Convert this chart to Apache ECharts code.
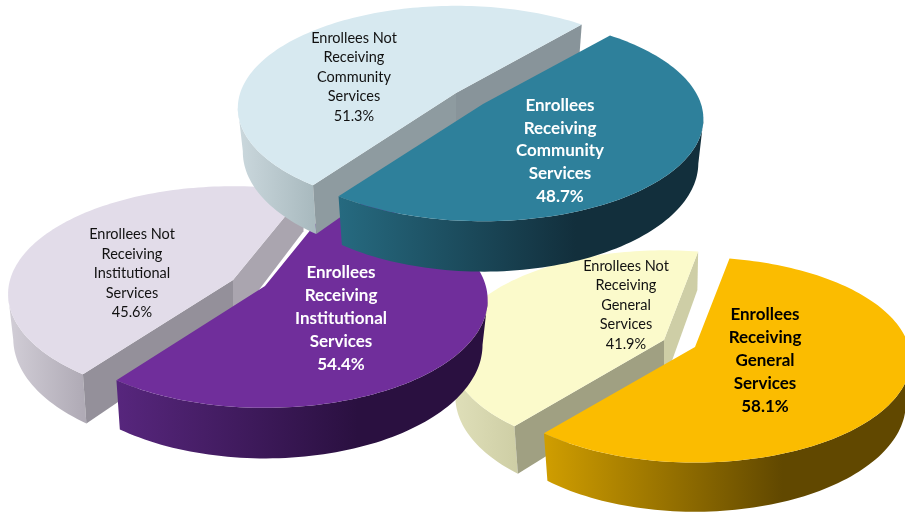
<!DOCTYPE html>
<html>
<head>
<meta charset="utf-8">
<title>Enrollees receiving services</title>
<script src="https://cdn.jsdelivr.net/npm/echarts@6/dist/echarts.min.js"></script>
<style>
  html, body { margin: 0; padding: 0; background: #fff; }
  #chart { width: 905px; height: 514px; }
</style>
</head>
<body>
<div id="chart"></div>
<script>
// data, drawn back to front
const serviceNames = ['General', 'Institutional', 'Community'];
const receivingValues = [58.1, 54.4, 48.7];
const notReceivingValues = [41.9, 45.6, 51.3];

// layout of each pie: tilt, depth and where the cut meets the front rim
const pieLayouts = [
  { rx: 214, ry: 101, tilt: 0.126, depth: 43, cutAngle: 129.6 },
  { rx: 223, ry: 106, tilt: 0.13, depth: 44, cutAngle: 127.1 },
  { rx: 218, ry: 100, tilt: 0.147, depth: 43, cutAngle: 125.7 }
];

// the bottom face is further from the eye, so it is a bit narrower
const BOTTOM_TAPER = 0.977;

const notReceivingLayouts = [
  { cx: 664, cy: 340, rxScale: 0.99, labelX: 626, labelY: 305, lineHeight: 19.5, font: 14.5, weight: 'normal', text: '#111',
    top: '#fbfacb', wallFrom: '#e0e0ba', wallTo: '#cfcfa6', cutBack: '#cecea6', cutFront: '#a0a082' },
  { cx: 233, cy: 280, labelX: 132, labelY: 273.5, lineHeight: 19.5, font: 14.5, weight: 'normal', text: '#111',
    top: '#e2dce9', wallFrom: '#d2ced7', wallTo: '#b0abb6', cutBack: '#aaa5af', cutFront: '#94909a' },
  { cx: 456, cy: 93, rxScale: 0.99, labelX: 354, labelY: 77, lineHeight: 19.5, font: 14.5, weight: 'normal', text: '#111',
    top: '#d7e9f0', wallFrom: '#cbd8dd', wallTo: '#a9babf', cutBack: '#88949a', cutFront: '#8e9ba0' }
];

const receivingLayouts = [
  { cx: 695, cy: 347, rxScale: 1, labelX: 765, labelY: 361, lineHeight: 23, font: 17, weight: 'bold', text: '#000',
    top: '#fbbc00', wallFrom: '#d09e00', wallTo: '#614800' },
  { cx: 265, cy: 286, rxScale: 0.99, labelX: 341, labelY: 319, lineHeight: 23, font: 17, weight: 'bold', text: '#fff',
    top: '#702e9b', wallFrom: '#57267d', wallTo: '#2a1040' },
  { cx: 483, cy: 104, rxScale: 1, labelX: 560, labelY: 151, lineHeight: 22.8, font: 17, weight: 'bold', text: '#fff',
    top: '#2e809b', wallFrom: '#266a80', wallTo: '#122f3c' }
];

const FONT = 'Lato, "Open Sans", sans-serif';

function labelText(pie, isReceiving, value) {
  const head = isReceiving ? 'Enrollees' : 'Enrollees Not';
  return head + '\nReceiving\n' + serviceNames[pie] + '\nServices\n' + value.toFixed(1) + '%';
}

// circle on the tilted plane -> screen, nearer part comes out bigger
function project(pie, slice, deg) {
  const a = deg * Math.PI / 180;
  const u = Math.cos(a), v = Math.sin(a);
  const w = 1 - pie.tilt * v;
  const rx = pie.rx * (slice.rxScale || 1);
  const dx = rx * u / w;
  return { x: slice.cx + dx, y: slice.cy + pie.ry * v / w, lowX: slice.cx + dx * BOTTOM_TAPER, lowY: slice.cy + pie.ry * v / w + pie.depth / w };
}

function arcPoints(pie, slice, from, to) {
  const pts = [];
  const steps = Math.ceil(Math.abs(to - from) / 1.5);
  for (let i = 0; i <= steps; i++) {
    pts.push(project(pie, slice, from + (to - from) * i / steps));
  }
  return pts;
}

function polygon(points, fill) {
  return { type: 'polygon', shape: { points: points }, style: { fill: fill, stroke: null }, silent: true };
}

// dark walls reach their darkest before the right end and stay there
function wallGradient(slice, x1, x2, flatFrom) {
  return new echarts.graphic.LinearGradient(x1, 0, x2, 0, [
    { offset: 0, color: slice.wallFrom },
    { offset: flatFrom, color: slice.wallTo },
    { offset: 1, color: slice.wallTo }
  ], true);
}

function renderItem(params, api) {
  const pieIndex = api.value(0);
  const isReceiving = api.value(1) === 1;
  const value = api.value(2);
  const pie = pieLayouts[pieIndex];
  const slice = (isReceiving ? receivingLayouts : notReceivingLayouts)[pieIndex];

  const lightSpan = notReceivingValues[pieIndex] * 3.6;
  const from = isReceiving ? pie.cutAngle + lightSpan : pie.cutAngle;
  const to = from + value * 3.6;

  const rim = arcPoints(pie, slice, from, to);
  const rimXY = rim.map(p => [p.x, p.y]);
  const xs = rim.map(p => p.x);
  const minX = Math.min.apply(null, xs), maxX = Math.max.apply(null, xs);

  const apex = [slice.cx, slice.cy];
  const apexLow = [slice.cx, slice.cy + pie.depth];
  const children = [];

  // outer wall: only the run of rim between the side extreme and the front shows
  const front = isReceiving ? rim.slice(xs.indexOf(maxX)) : rim.slice(0, xs.indexOf(minX) + 1);
  const wallOutline = front.map(p => [p.x, p.y]).concat(front.map(p => [p.lowX, p.lowY]).reverse());
  const wallFill = isReceiving
    ? wallGradient(slice, minX, maxX, 0.65)
    : wallGradient(slice, minX, rim[0].x, 1);
  children.push(polygon(wallOutline, wallFill));

  // the cut faces only show on the slices lying behind the cut
  if (!isReceiving) {
    const first = rim[0], last = rim[rim.length - 1];
    children.push(polygon([apex, [last.x, last.y], [last.lowX, last.lowY], apexLow], slice.cutBack));
    children.push(polygon([apex, [first.x, first.y], [first.lowX, first.lowY], apexLow], slice.cutFront));
  }

  children.push(polygon([apex].concat(rimXY), slice.top));

  children.push({
    type: 'text',
    z2: 100,
    silent: true,
    x: slice.labelX,
    y: slice.labelY,
    style: {
      text: labelText(pieIndex, isReceiving, value),
      fill: slice.text,
      font: slice.weight + ' ' + slice.font + 'px ' + FONT,
      lineHeight: slice.lineHeight,
      align: 'center',
      verticalAlign: 'middle'
    }
  });

  return { type: 'group', children: children };
}

// one row per slice: [pie, receiving?, percent]
const rows = [];
serviceNames.forEach((name, i) => {
  rows.push([i, 0, notReceivingValues[i]]);
  rows.push([i, 1, receivingValues[i]]);
});

const chart = echarts.init(document.getElementById('chart'), null, { renderer: 'canvas' });
chart.setOption({
  animation: false,
  backgroundColor: '#fff',
  series: [{
    type: 'custom',
    coordinateSystem: 'none',
    renderItem: renderItem,
    data: rows
  }]
});
</script>
</body>
</html>
